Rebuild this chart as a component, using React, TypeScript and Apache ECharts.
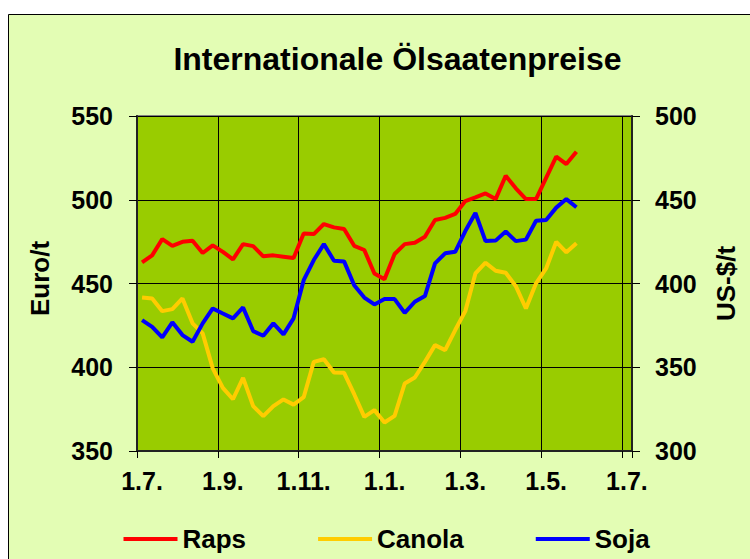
import React, { useEffect, useRef } from 'react';
import * as echarts from 'echarts';

// 49 weekly category slots on the x axis (labels every 8th slot)
const slotCount = 49;
const xTickLabels = ['1.7.', '1.9.', '1.11.', '1.1.', '1.3.', '1.5.', '1.7.'];

// Raps in Euro/t (left axis)
const raps = [462.6, 466.8, 476.5, 472.5, 474.9, 475.5, 468.2, 472.8, 468.9, 464.4, 473.5, 472.3, 466.2, 466.8, 466, 465.2, 479.9, 479.5, 485.5, 483.5, 482.5, 472.5, 470, 456, 452.6, 467.6, 473.5, 474.3, 477.9, 487.9, 489.2, 491.5, 499.2, 501.4, 503.8, 500.4, 514.3, 506.8, 500.4, 500.4, 513.1, 525.7, 521.3, 528.7];
// Canola in US-$/t (right axis)
const canola = [391.7, 391.1, 383.5, 384.7, 391.1, 376.2, 370.2, 349.3, 337.7, 330.9, 343.7, 326.8, 320.8, 326.8, 330.8, 327.7, 332.1, 353.2, 354.8, 346.9, 346.7, 333.9, 320.4, 324.4, 317, 321, 340.3, 343.9, 353.2, 363.2, 360.2, 372.2, 383.5, 406, 412.4, 407.6, 406.4, 398.4, 385.1, 400.1, 409, 424.9, 418.6, 424];
// Soja in US-$/t (right axis)
const soja = [378.1, 374.1, 367.8, 376.8, 369.2, 365.2, 376.2, 385.1, 382.1, 379.2, 385.7, 371.6, 368.8, 376.2, 369.6, 379.2, 402, 414, 423.5, 413.6, 413.2, 399, 391.6, 387.5, 390.7, 390.7, 382.5, 389.1, 392.5, 412, 418, 418.9, 431.3, 442.1, 425.3, 425.6, 431, 425.3, 426.2, 437.5, 437.9, 445.3, 450.4, 445.5];

const categories = Array.from({ length: slotCount }, (_, i) => `W${i + 1}`);

const FONT = '"Liberation Sans", Arial, Helvetica, sans-serif';
const txt = (size: number) => ({ fontFamily: FONT, fontSize: size, fontWeight: 'bold' as const, color: '#000' });

export default function App() {
  const ref = useRef<HTMLDivElement>(null);
  useEffect(() => {
    if (!ref.current) return;
    const chart = echarts.init(ref.current, undefined, { renderer: 'svg' });
    chart.setOption({
      animation: false,
      backgroundColor: '#ffffff',
      graphic: {
        elements: [
          {
            type: 'rect',
            z: -100,
            silent: true,
            shape: { x: 8.5, y: 14.5, width: 800, height: 600 },
            style: { fill: '#E3FDB4', stroke: '#000', lineWidth: 1 },
          },
        ],
      },
      title: {
        text: 'Internationale Ölsaatenpreise',
        left: 397.5,
        top: 43,
        padding: 0,
        textAlign: 'center',
        textStyle: txt(32),
      },
      legend: {
        left: 123.5,
        top: 526,
        padding: 0,
        icon: 'rect',
        itemWidth: 54,
        itemHeight: 4,
        itemGap: 72,
        textStyle: txt(26),
        data: ['Raps', 'Canola', 'Soja'],
      },
      grid: {
        left: 137,
        right: 118,
        top: 116,
        bottom: 108,
        show: true,
        backgroundColor: '#99CC00',
        borderColor: '#808080',
        borderWidth: 2,
        containLabel: false,
        outerBoundsMode: 'none',
      },
      xAxis: {
        type: 'category',
        data: categories,
        boundaryGap: true,
        axisLine: { show: true, lineStyle: { color: '#222', width: 2 } },
        axisTick: { show: true, interval: 7, length: 7, lineStyle: { color: '#000', width: 1 } },
        axisLabel: {
          interval: 7,
          margin: 17,
          ...txt(25),
          formatter: (_v: string, idx: number) => (idx % 8 === 0 ? xTickLabels[idx / 8] : ''),
        },
        splitLine: { show: true, interval: 7, lineStyle: { color: '#000', width: 1 } },
      },
      yAxis: [
        {
          type: 'value',
          position: 'left',
          min: 350,
          max: 550,
          interval: 50,
          name: 'Euro/t',
          nameLocation: 'middle',
          nameGap: 84,
          nameTextStyle: { ...txt(26), padding: [0, 0, 0, 10] },
          axisLine: { show: true, lineStyle: { color: '#222', width: 2 } },
          axisTick: { show: true, length: 8, lineStyle: { color: '#000', width: 1 } },
          axisLabel: { margin: 24, ...txt(25) },
          splitLine: { show: true, lineStyle: { color: '#000', width: 1 } },
        },
        {
          type: 'value',
          position: 'right',
          min: 300,
          max: 500,
          interval: 50,
          name: 'US-$/t',
          nameLocation: 'middle',
          nameGap: 81,
          nameTextStyle: txt(26),
          axisLine: { show: true, lineStyle: { color: '#222', width: 2 } },
          axisTick: { show: true, length: 8, lineStyle: { color: '#000', width: 1 } },
          axisLabel: { margin: 23, ...txt(25) },
          splitLine: { show: false },
        },
      ],
      series: [
        {
          name: 'Raps',
          type: 'line',
          yAxisIndex: 0,
          data: raps,
          showSymbol: false,
          symbol: 'none',
          color: '#FF0000',
          lineStyle: { color: '#FF0000', width: 4 },
        },
        {
          name: 'Canola',
          type: 'line',
          yAxisIndex: 1,
          data: canola,
          showSymbol: false,
          symbol: 'none',
          color: '#FFCC00',
          lineStyle: { color: '#FFCC00', width: 4 },
        },
        {
          name: 'Soja',
          type: 'line',
          yAxisIndex: 1,
          data: soja,
          showSymbol: false,
          symbol: 'none',
          color: '#0000FF',
          lineStyle: { color: '#0000FF', width: 4 },
        },
      ],
    });
    return () => chart.dispose();
  }, []);
  return (
    <div
      ref={ref}
      style={{ position: 'absolute', left: 0, top: 0, width: 750, height: 559 }}
    />
  );
}
